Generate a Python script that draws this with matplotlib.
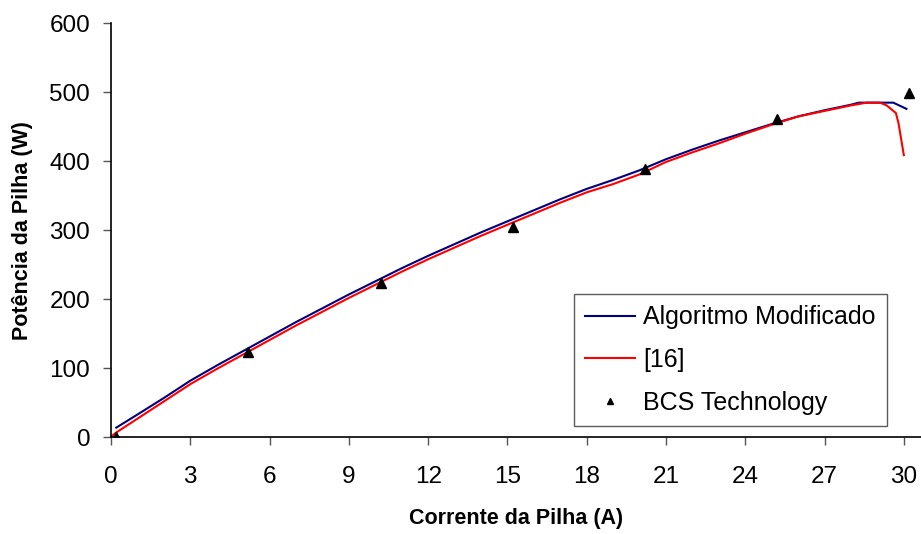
import numpy as np
import matplotlib.pyplot as plt

plt.rcParams['font.family'] = ['Liberation Sans', 'DejaVu Sans']

# Algoritmo Modificado (blue)
mod_i = [0.2, 1, 2, 3, 4, 5, 6, 7, 8, 9, 10, 11, 12, 13, 14, 15, 16, 17, 18,
         19, 20, 21, 22, 23, 24, 25, 26, 27, 28, 28.3, 29.6, 30.1]
mod_p = [14, 33, 57, 82, 104, 125, 146, 167, 187, 207, 226, 245, 263, 280, 297,
         313, 329, 345, 360, 373, 387, 403, 417, 430, 442, 454, 465, 474, 482,
         485, 485, 476]

# reference [16] (red)
ref_i = [0.0, 0.2, 1, 2, 3, 4, 5, 6, 7, 8, 9, 10, 11, 12, 13, 14, 15, 16, 17,
         18, 19, 20, 21, 22, 23, 24, 25, 26, 27, 28, 28.6, 29.1, 29.35, 29.7,
         29.8, 30.0]
ref_p = [1, 7, 27, 52, 77, 99, 120, 141, 162, 182, 202, 221, 240, 258, 275, 292,
         308, 324, 340, 355, 367, 381, 399, 413, 426, 440, 453, 465, 473, 481,
         485, 485, 481, 470, 455, 409]

# BCS Technology measurements
bcs_i = [0.2, 5.2, 10.2, 15.2, 20.2, 25.2, 30.2]
bcs_p = [0, 124, 224, 305, 389, 461, 499]

xticks = np.arange(0, 31, 3)
yticks = np.arange(0, 601, 100)

fig = plt.figure(figsize=(9.21, 5.34), dpi=100)
ax = fig.add_axes([111 / 921, 96.7 / 534, 810 / 921, 414 / 534])

ax.plot(mod_i, mod_p, color='#000080', lw=1.5, label='Algoritmo Modificado')
ax.plot(ref_i, ref_p, color='#ff0000', lw=1.5, label='[16]')
ax.plot(bcs_i, bcs_p, linestyle='none', marker='^', color='black', ms=7,
        label='BCS Technology')

ax.set(xlim=(0, 30.65), ylim=(0, 600), xticks=xticks, yticks=yticks)
ax.spines[['top', 'right']].set_visible(False)
for s in ('left', 'bottom'):
    ax.spines[s].set_linewidth(1.2)
ax.tick_params(axis='both', length=6, width=1, color='#555555',
               labelsize=17.5, direction='out')
ax.tick_params(axis='x', pad=15)
ax.tick_params(axis='y', pad=9)

ax.set_xlabel('Corrente da Pilha (A)', fontsize=15.5, fontweight='bold',
              labelpad=14)
ax.set_ylabel('Potência da Pilha (W)', fontsize=15.5, fontweight='bold',
              labelpad=12)

leg = ax.legend(loc='upper left', bbox_to_anchor=(574 / 921, 1 - 294 / 534),
                bbox_transform=fig.transFigure, borderaxespad=0,
                fontsize=18, fancybox=False, frameon=True, edgecolor='#333333',
                handlelength=2.0, handletextpad=0.3, labelspacing=0.75,
                borderpad=0.45, markerscale=0.7)
leg.get_frame().set_linewidth(1.0)

fig.savefig('out.png', dpi=100)
